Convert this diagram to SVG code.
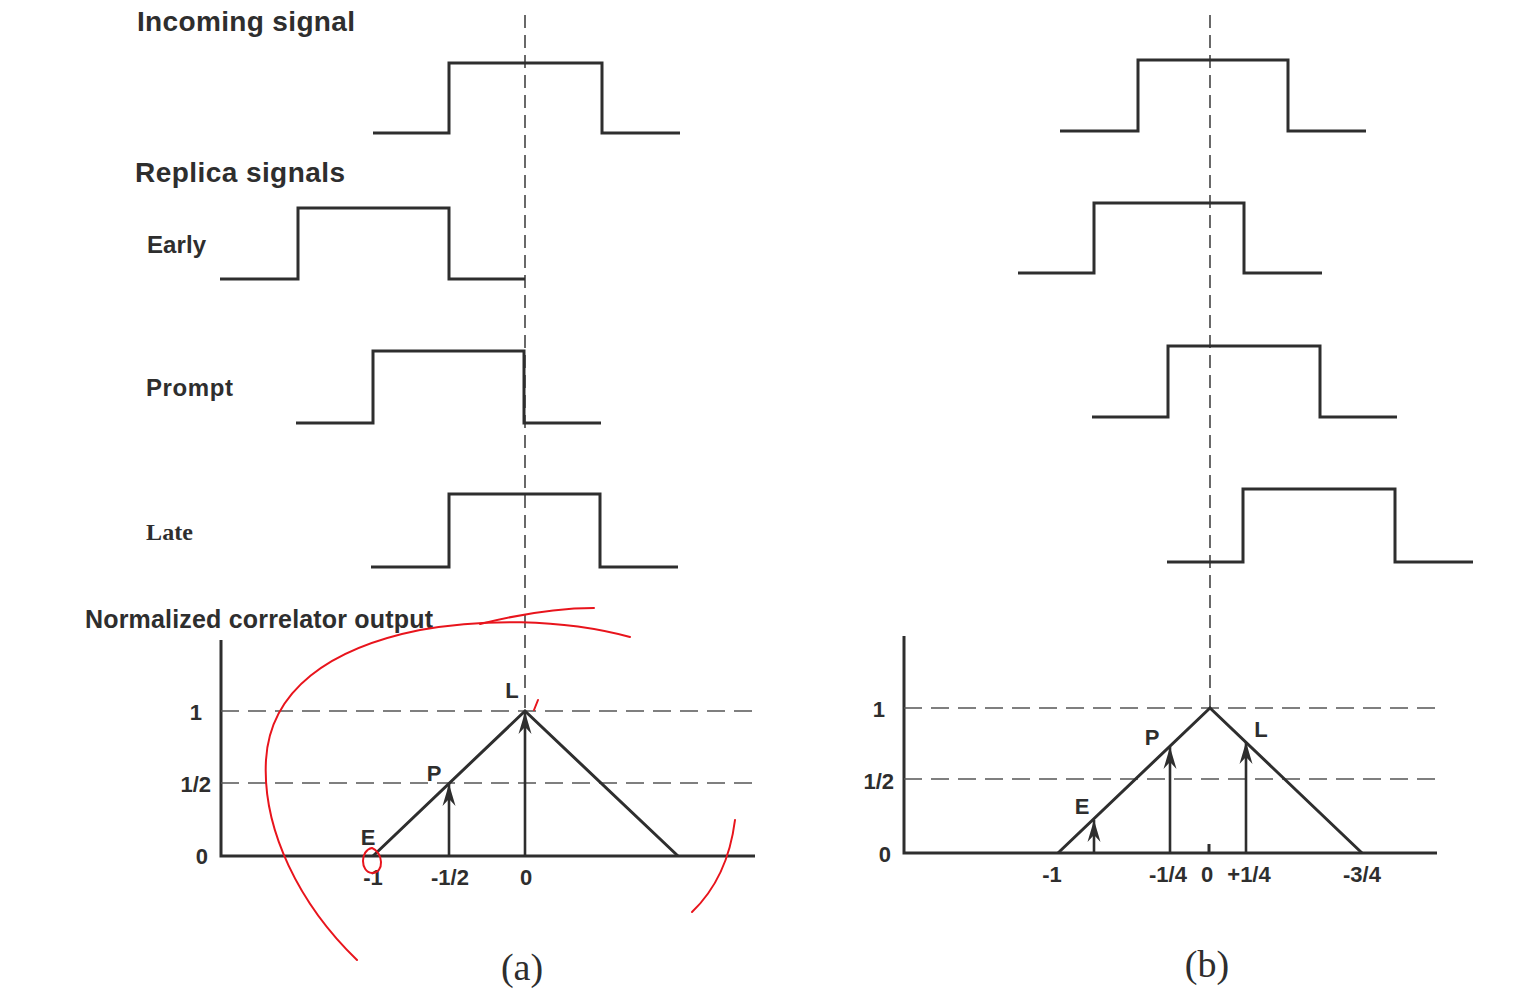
<svg xmlns="http://www.w3.org/2000/svg" width="1515" height="990" viewBox="0 0 1515 990">
<defs>
<style>
.w{fill:none;stroke:#2e2e2e;stroke-width:3;stroke-linejoin:miter}
.ax{fill:none;stroke:#2e2e2e;stroke-width:3}
.dv{fill:none;stroke:#444;stroke-width:1.6;stroke-dasharray:13 7}
.dh{fill:none;stroke:#555;stroke-width:1.6;stroke-dasharray:18 9}
.ar{fill:none;stroke:#2e2e2e;stroke-width:2.6;marker-end:url(#ah)}
.lb{font-family:"Liberation Sans",Arial,sans-serif;font-weight:bold;fill:#2e2e2e}
.sf{font-family:"Liberation Serif","Times New Roman",serif;fill:#2e2e2e}
.red{fill:none;stroke:#e8141c;stroke-width:2;stroke-linecap:round}
</style>
<marker id="ah" viewBox="-24 -8 26 16" markerWidth="26" markerHeight="16" refX="0" refY="0" orient="auto" markerUnits="userSpaceOnUse">
<path d="M0,0 L-22,-6.5 L-15,0 L-22,6.5 Z" fill="#2e2e2e"/>
</marker>
</defs>
<rect width="1515" height="990" fill="#fff"/>

<g id="labels-left">
<text class="lb" x="137" y="31" font-size="28" textLength="218">Incoming signal</text>
<text class="lb" x="135" y="182" font-size="28" textLength="210">Replica signals</text>
<text class="lb" x="147" y="253" font-size="24" textLength="59">Early</text>
<text class="lb" x="146" y="396" font-size="24" textLength="87">Prompt</text>
<text class="sf" x="146" y="540" font-size="24" font-weight="bold" textLength="47">Late</text>
<text class="lb" x="85" y="628" font-size="25" textLength="348">Normalized correlator output</text>
</g>

<g id="connectors">
<line class="dv" x1="525" y1="15" x2="525" y2="711"/>
<line class="dv" x1="1210" y1="15" x2="1210" y2="708"/>
</g>

<g id="waves-a">
<polyline id="a-incoming" class="w" points="373,133 449,133 449,63 602,63 602,133 680,133"/>
<polyline id="a-early" class="w" points="220,279 298,279 298,208 449,208 449,279 525,279"/>
<polyline id="a-prompt" class="w" points="296,423 373,423 373,351 524,351 524,423 601,423"/>
<polyline id="a-late" class="w" points="371,567 449,567 449,494 600,494 600,567 678,567"/>
</g>

<g id="waves-b">
<polyline id="b-incoming" class="w" points="1060,131 1138,131 1138,60 1288,60 1288,131 1366,131"/>
<polyline id="b-early" class="w" points="1018,273 1094,273 1094,203 1244,203 1244,273 1322,273"/>
<polyline id="b-prompt" class="w" points="1092,417 1168,417 1168,346 1320,346 1320,417 1397,417"/>
<polyline id="b-late" class="w" points="1167,562 1243,562 1243,489 1395,489 1395,562 1473,562"/>
</g>

<g id="plot-a">
<polyline class="ax" points="221,640 221,856 755,856"/>
<line class="dh" x1="221" y1="711" x2="757" y2="711"/>
<line class="dh" x1="221" y1="783" x2="757" y2="783"/>
<polyline class="ax" points="373,856 525,711 678,856"/>
<line class="ar" x1="449" y1="856" x2="449" y2="784"/>
<line class="ar" x1="525" y1="856" x2="525" y2="712"/>
<text class="lb" x="202" y="720" font-size="22" text-anchor="end">1</text>
<text class="lb" x="211" y="792" font-size="22" text-anchor="end">1/2</text>
<text class="lb" x="208" y="864" font-size="22" text-anchor="end">0</text>
<text class="lb" x="368" y="845" font-size="22" text-anchor="middle">E</text>
<text class="lb" x="434" y="781" font-size="22" text-anchor="middle">P</text>
<text class="lb" x="512" y="698" font-size="22" text-anchor="middle">L</text>
<text class="lb" x="373" y="885" font-size="22" text-anchor="middle">-1</text>
<text class="lb" x="450" y="885" font-size="22" text-anchor="middle">-1/2</text>
<text class="lb" x="526" y="885" font-size="22" text-anchor="middle">0</text>
<text class="sf" x="522" y="980" font-size="38" text-anchor="middle">(a)</text>
</g>

<g id="plot-b">
<polyline class="ax" points="904,636 904,853 1437,853"/>
<line class="dh" x1="904" y1="708" x2="1442" y2="708"/>
<line class="dh" x1="904" y1="779" x2="1442" y2="779"/>
<polyline class="ax" points="1058,853 1210,708 1362,853"/>
<line class="ax" x1="1209" y1="844" x2="1209" y2="853"/>
<line class="ar" x1="1094" y1="853" x2="1094" y2="820"/>
<line class="ar" x1="1170" y1="853" x2="1170" y2="747"/>
<line class="ar" x1="1246" y1="853" x2="1246" y2="742"/>
<text class="lb" x="885" y="717" font-size="22" text-anchor="end">1</text>
<text class="lb" x="894" y="789" font-size="22" text-anchor="end">1/2</text>
<text class="lb" x="891" y="862" font-size="22" text-anchor="end">0</text>
<text class="lb" x="1082" y="814" font-size="22" text-anchor="middle">E</text>
<text class="lb" x="1152" y="745" font-size="22" text-anchor="middle">P</text>
<text class="lb" x="1261" y="737" font-size="22" text-anchor="middle">L</text>
<text class="lb" x="1052" y="882" font-size="22" text-anchor="middle">-1</text>
<text class="lb" x="1168" y="882" font-size="22" text-anchor="middle">-1/4</text>
<text class="lb" x="1207" y="882" font-size="22" text-anchor="middle">0</text>
<text class="lb" x="1249" y="882" font-size="22" text-anchor="middle">+1/4</text>
<text class="lb" x="1362" y="882" font-size="22" text-anchor="middle">-3/4</text>
<text class="sf" x="1207" y="977" font-size="38" text-anchor="middle">(b)</text>
</g>

<g id="annotations">
<path class="red" d="M357,960 C300,905 262,830 266,760 C270,690 330,648 420,630 C480,619 560,618 630,637"/>
<path class="red" d="M480,624 C520,614 560,608 594,608"/>
<path class="red" d="M735,820 C730,860 715,890 692,912"/>
<path class="red" d="M372,848 C360,850 360,872 372,873 C385,873 383,852 372,848 Z"/>
<path class="red" d="M534,710 L538,700"/>
</g>
</svg>
